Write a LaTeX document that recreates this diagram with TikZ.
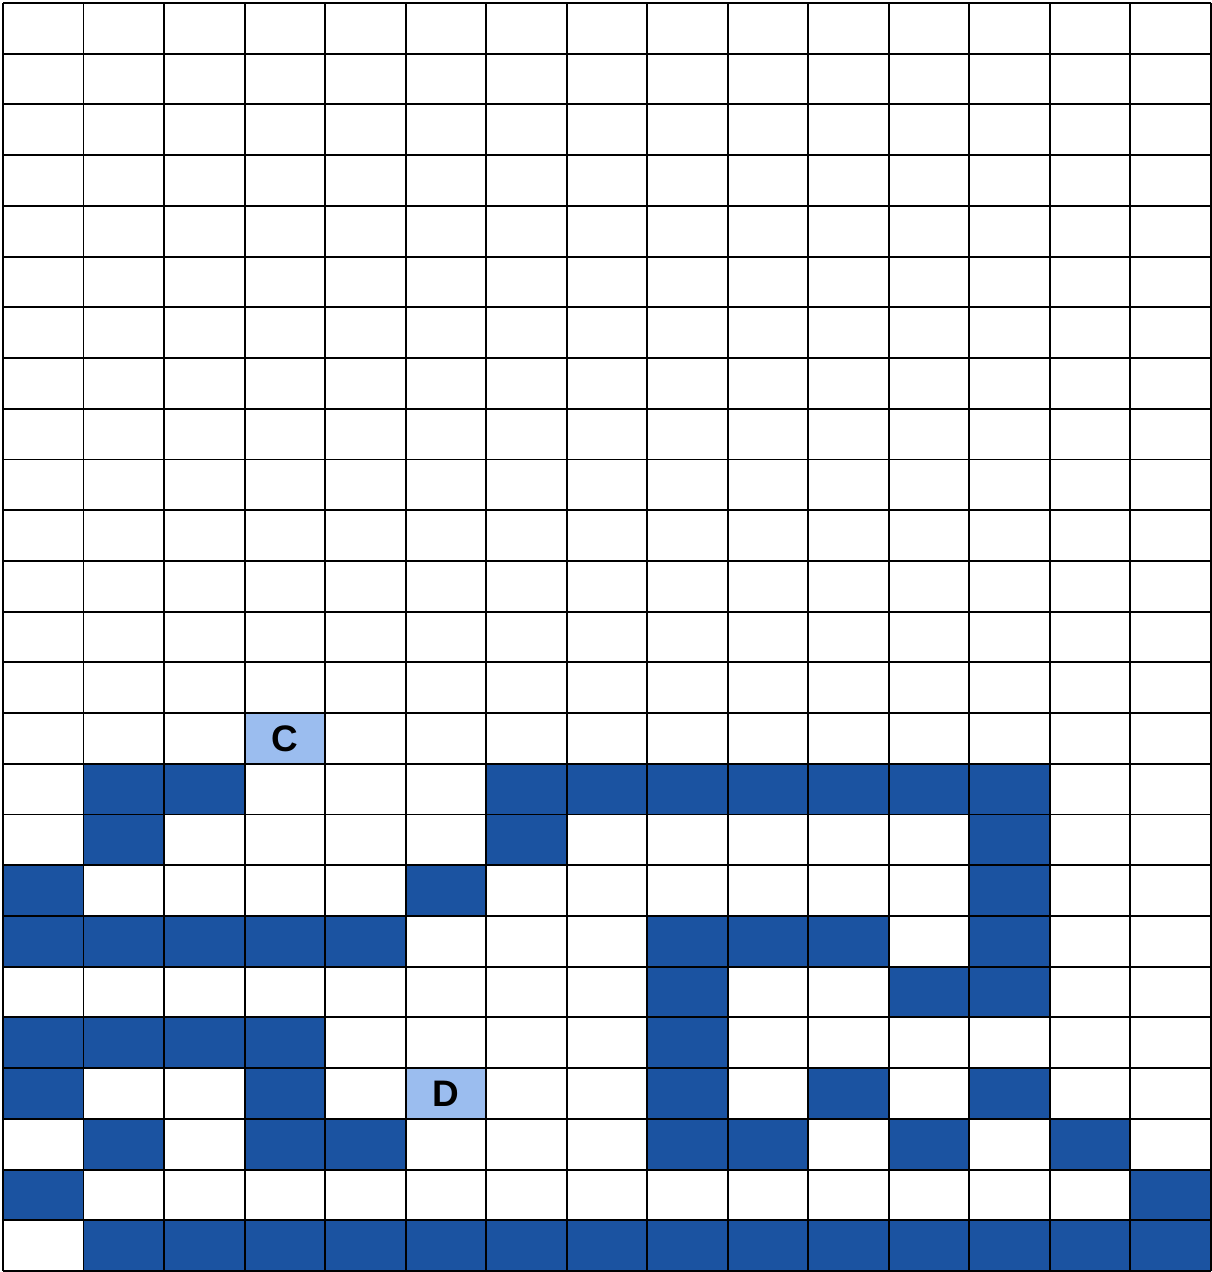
\documentclass[tikz,border=0pt]{standalone}
\usepackage{fontspec}
\setmainfont{Liberation Sans}
\usepackage{tikz}
\definecolor{wallblue}{HTML}{1B53A1}
\definecolor{markblue}{HTML}{9BBDEF}

\begin{document}
\begin{tikzpicture}[x=1.6106cm, y=-1.0144cm]
\tikzset{
  blk/.style={fill=wallblue},
  endcell/.style={fill=markblue, minimum width=1.6106cm, minimum height=1.0144cm,
    inner sep=0pt, font=\fontsize{21}{25}\selectfont\bfseries},
  gridln/.style={line width=1.1pt, black}
}
\useasboundingbox ([shift={(-0.06cm,0.06cm)}]0,0) rectangle ([shift={(0.02cm,-0.02cm)}]15,25);
% ---------- blocked cells ----------
\foreach \r/\cs in {15/{1,2,6,7,8,9,10,11,12},
                    16/{1,6,12},
                    17/{0,5,12},
                    18/{0,1,2,3,4,8,9,10,12},
                    19/{8,11,12},
                    20/{0,1,2,3,8},
                    21/{0,3,8,10,12},
                    22/{1,3,4,8,9,11,13},
                    23/{0,14},
                    24/{1,2,3,4,5,6,7,8,9,10,11,12,13,14}}
  \foreach \c in \cs
    \fill[blk] (\c,\r) rectangle (\c+1,\r+1);
% ---------- start and goal ----------
\node[endcell] (C) at (3.5,14.5) {C};
\node[endcell] (D) at (5.5,21.5) {D};
% ---------- grid ----------
\foreach \c in {0,...,15} \draw[gridln] (\c,0) -- (\c,25);
\foreach \r in {0,...,25} \draw[gridln] (0,\r) -- (15,\r);
\end{tikzpicture}
\end{document}
